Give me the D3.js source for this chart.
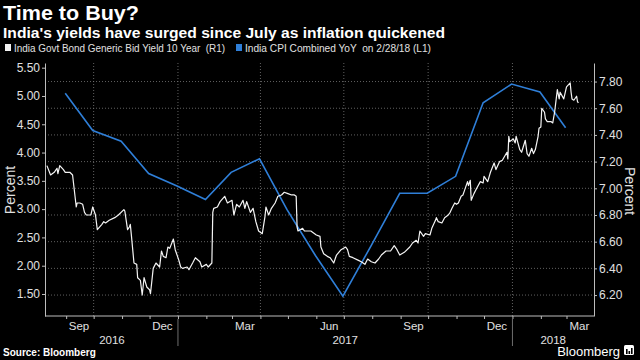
<!DOCTYPE html>
<html>
<head>
<meta charset="utf-8">
<script src="https://d3js.org/d3.v7.min.js"></script>
<style>
  body { margin: 0; background: #000; }
  text { font-family: "Liberation Sans", Arial, sans-serif; }
</style>
</head>
<body>
<div id="chart"></div>
<script>

// CPI, monthly (left axis), plotted at month end
var cpiMonths = ["2016-08","2016-09","2016-10","2016-11","2016-12","2017-01","2017-02","2017-03","2017-04","2017-05",
                 "2017-06","2017-07","2017-08","2017-09","2017-10","2017-11","2017-12","2018-01","2018-02"];
var cpiValues = [5.05,4.39,4.20,3.63,3.41,3.17,3.65,3.89,2.99,2.18,1.46,2.36,3.28,3.28,3.58,4.88,5.21,5.07,4.44];

// 10Y yield (right axis)
var yieldDates = [
  "2016-08-11","2016-08-15","2016-08-19","2016-08-22","2016-08-23","2016-08-25","2016-08-29","2016-08-31","2016-09-05","2016-09-08",
  "2016-09-09","2016-09-12","2016-09-13","2016-09-16","2016-09-19","2016-09-21","2016-09-23","2016-09-28","2016-09-30","2016-10-03",
  "2016-10-05","2016-10-10","2016-10-12","2016-10-14","2016-10-18","2016-10-24","2016-10-28","2016-11-03","2016-11-04","2016-11-07",
  "2016-11-09","2016-11-10","2016-11-11","2016-11-14","2016-11-17","2016-11-18","2016-11-21","2016-11-23","2016-11-25","2016-11-28",
  "2016-12-01","2016-12-02","2016-12-05","2016-12-08","2016-12-12","2016-12-14","2016-12-16","2016-12-19","2016-12-21","2016-12-23",
  "2016-12-27","2016-12-29","2017-01-02","2017-01-04","2017-01-06","2017-01-11","2017-01-13","2017-01-17","2017-01-20","2017-01-25",
  "2017-01-27","2017-02-01","2017-02-03","2017-02-07","2017-02-08","2017-02-09","2017-02-13","2017-02-16","2017-02-21","2017-02-24",
  "2017-03-01","2017-03-03","2017-03-06","2017-03-09","2017-03-13","2017-03-15","2017-03-17","2017-03-21","2017-03-24","2017-03-27",
  "2017-03-30","2017-04-03","2017-04-06","2017-04-07","2017-04-10","2017-04-13","2017-04-17","2017-04-20","2017-04-24","2017-04-27",
  "2017-05-01","2017-05-05","2017-05-08","2017-05-10","2017-05-11","2017-05-12","2017-05-17","2017-05-19","2017-05-26","2017-06-01",
  "2017-06-05","2017-06-06","2017-06-09","2017-06-13","2017-06-16","2017-06-20","2017-06-23","2017-06-28","2017-07-03","2017-07-05",
  "2017-07-07","2017-07-11","2017-07-17","2017-07-20","2017-07-24","2017-07-27","2017-07-31","2017-08-04","2017-08-08","2017-08-11",
  "2017-08-16","2017-08-21","2017-08-25","2017-08-28","2017-08-31","2017-09-05","2017-09-11","2017-09-14","2017-09-18","2017-09-20",
  "2017-09-22","2017-09-26","2017-09-28","2017-10-03","2017-10-05","2017-10-09","2017-10-10","2017-10-12","2017-10-16","2017-10-19",
  "2017-10-23","2017-10-25","2017-10-27","2017-10-30","2017-11-01","2017-11-03","2017-11-06","2017-11-08","2017-11-10","2017-11-13",
  "2017-11-14","2017-11-16","2017-11-17","2017-11-20","2017-11-23","2017-11-27","2017-11-30","2017-12-01","2017-12-05","2017-12-08",
  "2017-12-12","2017-12-14","2017-12-18","2017-12-21","2017-12-26","2017-12-27","2017-12-28","2017-12-29","2018-01-02","2018-01-04",
  "2018-01-05","2018-01-09","2018-01-11","2018-01-15","2018-01-17","2018-01-19","2018-01-22","2018-01-24","2018-01-26","2018-01-29",
  "2018-01-30","2018-02-01","2018-02-02","2018-02-05","2018-02-06","2018-02-08","2018-02-12","2018-02-14","2018-02-16","2018-02-19",
  "2018-02-21","2018-02-22","2018-02-26","2018-03-01","2018-03-05","2018-03-06","2018-03-07","2018-03-09","2018-03-12","2018-03-13",
  "2018-03-14"];
var yieldValues = [
  7.17,7.10,7.12,7.15,7.11,7.17,7.14,7.12,7.12,7.10,
  7.04,6.86,6.89,6.89,6.88,6.82,6.80,6.80,6.86,6.80,
  6.69,6.73,6.75,6.74,6.76,6.78,6.80,6.84,6.83,6.69,
  6.71,6.73,6.66,6.44,6.43,6.33,6.31,6.20,6.33,6.26,
  6.24,6.21,6.40,6.44,6.41,6.53,6.49,6.48,6.56,6.55,
  6.62,6.54,6.46,6.41,6.40,6.41,6.39,6.44,6.48,6.45,
  6.41,6.43,6.41,6.44,6.82,6.85,6.86,6.90,6.94,6.89,
  6.91,6.80,6.88,6.86,6.91,6.85,6.90,6.82,6.85,6.75,
  6.68,6.66,6.79,6.86,6.80,6.85,6.89,6.94,6.95,6.97,
  6.96,6.95,6.95,6.94,6.71,6.68,6.70,6.68,6.68,6.65,
  6.64,6.56,6.51,6.49,6.48,6.44,6.50,6.54,6.56,6.54,
  6.49,6.48,6.46,6.45,6.43,6.47,6.45,6.44,6.47,6.50,
  6.53,6.53,6.57,6.54,6.50,6.52,6.56,6.59,6.61,6.59,
  6.68,6.64,6.66,6.65,6.70,6.76,6.78,6.75,6.74,6.78,
  6.80,6.82,6.85,6.89,6.88,6.89,6.94,6.95,6.99,7.05,
  7.02,7.06,6.91,6.96,7.00,7.05,7.04,7.09,7.05,7.12,
  7.19,7.14,7.20,7.21,7.27,7.22,7.39,7.35,7.37,7.34,
  7.39,7.29,7.27,7.36,7.26,7.24,7.30,7.26,7.29,7.39,
  7.45,7.46,7.60,7.57,7.52,7.50,7.50,7.49,7.57,7.74,
  7.67,7.72,7.67,7.76,7.79,7.72,7.67,7.66,7.69,7.65,
  7.64];

var leftTicks = [1.5, 2.0, 2.5, 3.0, 3.5, 4.0, 4.5, 5.0, 5.5];
var rightTicks = [6.2, 6.4, 6.6, 6.8, 7.0, 7.2, 7.4, 7.6, 7.8];
var labelMonths = ["2016-09","2016-12","2017-03","2017-06","2017-09","2017-12","2018-03"];
var yearLabels = ["2016", "2017", "2018"];

var width = 640, height = 360;
var plot = {left: 45, right: 594, top: 63, bottom: 316};
var parse = d3.timeParse("%Y-%m-%d");
var parseMonth = d3.timeParse("%Y-%m");
var start = parse("2016-08-10"), end = parse("2018-03-31");

var x = d3.scaleTime().domain([start, end]).range([plot.left + 1, plot.right]);
var yL = d3.scaleLinear().domain([1.111, 5.583]).range([plot.bottom, plot.top]);
var yR = d3.scaleLinear().domain([6.043, 7.939]).range([plot.bottom, plot.top]);

var svg = d3.select("#chart").append("svg")
    .attr("width", width)
    .attr("height", height)
    .style("background", "#000");

// Titles
svg.append("text").attr("x", 3).attr("y", 20)
    .attr("fill", "#fff").attr("font-size", "20px").attr("font-weight", "bold")
    .attr("font-family", "DejaVu Sans")
    .attr("textLength", 136).attr("lengthAdjust", "spacingAndGlyphs")
    .text("Time to Buy?");
svg.append("text").attr("x", 3).attr("y", 38)
    .attr("fill", "#fff").attr("font-size", "14.5px").attr("font-weight", "bold")
    .attr("font-family", "DejaVu Sans")
    .attr("textLength", 442).attr("lengthAdjust", "spacingAndGlyphs")
    .text("India's yields have surged since July as inflation quickened");

// Legend
var legend = [
  {label: "India Govt Bond Generic Bid Yield 10 Year  (R1)", color: "#f2f2f2", x: 5, w: 211},
  {label: "India CPI Combined YoY  on 2/28/18 (L1)", color: "#2f7fd8", x: 236, w: 186}
];
legend.forEach(function (d) {
  svg.append("rect").attr("x", d.x).attr("y", 44).attr("width", 6).attr("height", 7).attr("fill", d.color);
  svg.append("text").attr("x", d.x + 9).attr("y", 51.5)
      .attr("fill", "#e0e0e0").attr("font-size", "11px")
      .attr("textLength", d.w).attr("lengthAdjust", "spacingAndGlyphs")
      .attr("xml:space", "preserve")
      .text(d.label);
});

// Grid
var grid = svg.append("g").attr("stroke", "#7a7a7a").attr("stroke-width", 0.8).attr("stroke-dasharray", "1,2");
grid.selectAll(".h").data(rightTicks).enter().append("line")
    .attr("x1", plot.left).attr("x2", plot.right)
    .attr("y1", function (d) { return yR(d); }).attr("y2", function (d) { return yR(d); });
var quarters = d3.timeMonth.every(3).range(start, end);
grid.selectAll(".v").data(quarters).enter().append("line")
    .attr("x1", function (d) { return x(d); }).attr("x2", function (d) { return x(d); })
    .attr("y1", plot.top).attr("y2", plot.bottom);

// Axes
function styleAxis(g) {
  g.select(".domain").attr("stroke", "#bdbdbd");
  g.selectAll(".tick line").attr("stroke", "#bdbdbd");
  g.selectAll(".tick text").attr("fill", "#e0e0e0").attr("font-size", "12px")
      .attr("font-family", "Liberation Sans");
}

svg.append("g").attr("transform", "translate(" + plot.left + ",0)")
    .call(d3.axisLeft(yL).tickValues(leftTicks).tickSize(3).tickSizeOuter(0).tickPadding(2).tickFormat(d3.format(".2f")))
    .call(styleAxis);
svg.append("g").attr("transform", "translate(" + plot.right + ",0)")
    .call(d3.axisRight(yR).tickValues(rightTicks).tickSize(3).tickSizeOuter(0).tickPadding(2).tickFormat(d3.format(".2f")))
    .call(styleAxis);

var monthStarts = d3.timeMonth.range(d3.timeMonth.ceil(start), end);
svg.append("g").attr("transform", "translate(0," + plot.bottom + ")")
    .call(d3.axisBottom(x).tickValues(monthStarts).tickSize(3).tickSizeOuter(0).tickFormat(""))
    .call(styleAxis)
    .select(".domain").attr("d", "M" + plot.left + ",0H" + plot.right);

// Month labels (mid-month)
var fmtMonth = d3.timeFormat("%b");
svg.selectAll(".mlab").data(labelMonths).enter().append("text")
    .attr("x", function (d) { return x(d3.timeDay.offset(parseMonth(d), 14)); })
    .attr("y", 330)
    .attr("text-anchor", "middle").attr("fill", "#e0e0e0").attr("font-size", "11.5px")
    .text(function (d) { return fmtMonth(parseMonth(d)); });

// Year labels and separators
yearLabels.forEach(function (yr) {
  var a = d3.max([parse(yr + "-01-01"), start]);
  var b = d3.min([parse((+yr + 1) + "-01-01"), end]);
  svg.append("text")
      .attr("x", (x(a) + x(b)) / 2).attr("y", 343.5)
      .attr("text-anchor", "middle").attr("fill", "#e0e0e0").attr("font-size", "11.5px")
      .text(yr);
  if (a > start) {
    svg.append("line").attr("x1", x(a)).attr("x2", x(a))
        .attr("y1", plot.bottom + 3).attr("y2", 346)
        .attr("stroke", "#8a8a8a").attr("stroke-width", 0.8);
  }
});

// Axis titles
svg.append("text").attr("transform", "translate(15,190) rotate(-90)")
    .attr("text-anchor", "middle").attr("fill", "#e0e0e0").attr("font-size", "14px")
    .text("Percent");
svg.append("text").attr("transform", "translate(625,191) rotate(90)")
    .attr("text-anchor", "middle").attr("fill", "#e0e0e0").attr("font-size", "14px")
    .text("Percent");

// Lines
var cpiData = cpiMonths.map(function (m, i) {
  return {date: d3.timeDay.offset(d3.timeMonth.offset(parseMonth(m), 1), -1), value: cpiValues[i]};
});
var yieldData = yieldDates.map(function (d, i) { return {date: parse(d), value: yieldValues[i]}; });

svg.append("path").datum(cpiData)
    .attr("fill", "none").attr("stroke", "#2f7fd8").attr("stroke-width", 1.6)
    .attr("d", d3.line().x(function (d) { return x(d.date); }).y(function (d) { return yL(d.value); }));

svg.append("path").datum(yieldData)
    .attr("fill", "none").attr("stroke", "#f4f4f4").attr("stroke-width", 1.2)
    .attr("stroke-linejoin", "round")
    .attr("d", d3.line().x(function (d) { return x(d.date); }).y(function (d) { return yR(d.value); }));

// Footer
svg.append("text").attr("x", 3).attr("y", 356)
    .attr("fill", "#fff").attr("font-size", "10px").attr("font-weight", "bold")
    .attr("font-family", "DejaVu Sans")
    .text("Source: Bloomberg");
svg.append("text").attr("x", 620).attr("y", 356)
    .attr("text-anchor", "end").attr("fill", "#fff").attr("font-size", "13px")
    .text("Bloomberg");
var logo = svg.append("g").attr("transform", "translate(624,345)");
logo.append("rect").attr("width", 10).attr("height", 10).attr("rx", 1.5).attr("fill", "#fff");
[[2, 5], [4.5, 3], [7, 6]].forEach(function (b) {
  logo.append("rect").attr("x", b[0]).attr("y", 9 - b[1]).attr("width", 1.6).attr("height", b[1]).attr("fill", "#000");
});

</script>
</body>
</html>
